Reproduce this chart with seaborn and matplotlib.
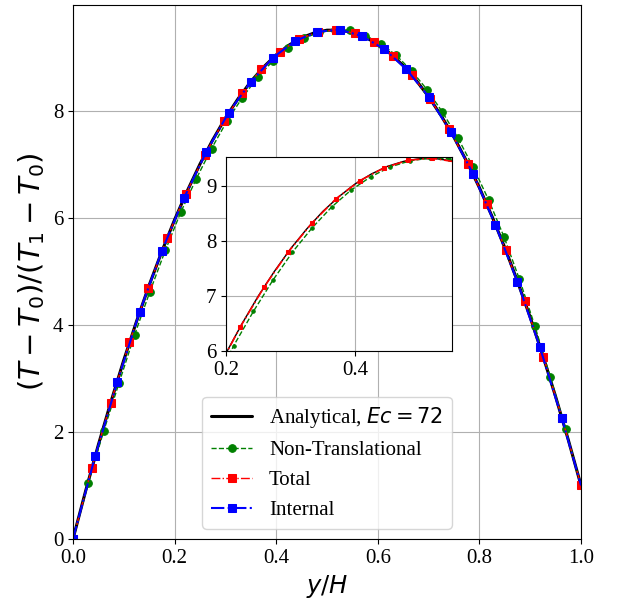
import numpy as np
import pandas as pd
import seaborn as sns
from matplotlib import pyplot as plt

# analytical profile, every 0.025 in y/H
y_ana = [0.0, 0.025, 0.05, 0.075, 0.1, 0.125, 0.15, 0.175, 0.2, 0.225,
         0.25, 0.275, 0.3, 0.325, 0.35, 0.375, 0.4, 0.425, 0.45, 0.475,
         0.5, 0.525, 0.55, 0.575, 0.6, 0.625, 0.65, 0.675, 0.7, 0.725,
         0.75, 0.775, 0.8, 0.825, 0.85, 0.875, 0.9, 0.925, 0.95, 0.975, 1.0]
T_ana = [0.0, 0.90, 1.76, 2.57, 3.34, 4.06, 4.74, 5.37, 5.96, 6.50,
         7.00, 7.45, 7.86, 8.22, 8.54, 8.81, 9.04, 9.22, 9.36, 9.45,
         9.50, 9.50, 9.46, 9.37, 9.24, 9.06, 8.84, 8.57, 8.26, 7.90,
         7.50, 7.05, 6.56, 6.02, 5.44, 4.81, 4.14, 3.42, 2.66, 1.85, 1.00]

# Non-Translational (green circles)
y_nt = [0.0, 0.0303, 0.0606, 0.0909, 0.1212, 0.1515, 0.1818, 0.2121, 0.2424,
        0.2727, 0.3030, 0.3333, 0.3636, 0.3939, 0.4242, 0.4545, 0.4848,
        0.5152, 0.5455, 0.5758, 0.6061, 0.6364, 0.6667, 0.6970, 0.7273,
        0.7576, 0.7879, 0.8182, 0.8485, 0.8788, 0.9091, 0.9394, 0.9697, 1.0]
T_nt = [0.0, 1.05, 2.02, 2.92, 3.81, 4.62, 5.39, 6.10, 6.72,
        7.29, 7.80, 8.24, 8.62, 8.93, 9.17, 9.35, 9.46,
        9.51, 9.50, 9.40, 9.25, 9.03, 8.74, 8.39, 7.97,
        7.49, 6.94, 6.33, 5.64, 4.85, 3.98, 3.03, 2.05, 1.00]

# Total (red squares)
y_tot = [0.0, 0.0370, 0.0741, 0.1111, 0.1481, 0.1852, 0.2222, 0.2593, 0.2963,
         0.3333, 0.3704, 0.4074, 0.4444, 0.4815, 0.5185, 0.5556, 0.5926,
         0.6296, 0.6667, 0.7037, 0.7407, 0.7778, 0.8148, 0.8519, 0.8889,
         0.9259, 0.9630, 1.0]
T_tot = [0.0, 1.32, 2.54, 3.67, 4.69, 5.62, 6.44, 7.17, 7.80,
         8.33, 8.77, 9.10, 9.33, 9.47, 9.51, 9.44, 9.28,
         9.02, 8.67, 8.21, 7.65, 7.00, 6.25, 5.39, 4.44,
         3.40, 2.25, 1.00]

# Internal (blue squares)
y_int = [0.0, 0.0438, 0.0875, 0.1313, 0.175, 0.2188, 0.2625, 0.3063, 0.35,
         0.3938, 0.4375, 0.4813, 0.525, 0.5688, 0.6125, 0.6563, 0.70,
         0.7438, 0.7875, 0.8313, 0.875, 0.9188, 0.9625, 1.0]
T_int = [0.0, 1.55, 2.94, 4.24, 5.38, 6.37, 7.23, 7.96, 8.53,
         8.99, 9.30, 9.47, 9.51, 9.39, 9.15, 8.77, 8.26,
         7.60, 6.82, 5.87, 4.80, 3.59, 2.25, 1.00]

sns.set_style('ticks', rc={'axes.edgecolor': 'black', 'text.color': 'black',
                           'axes.labelcolor': 'black', 'xtick.color': 'black',
                           'ytick.color': 'black', 'axes.grid': True,
                           'grid.color': '#b0b0b0', 'grid.linewidth': 0.8})
plt.rcParams['font.family'] = 'serif'
plt.rcParams['font.serif'] = ['Liberation Serif', 'DejaVu Serif']
plt.rcParams['mathtext.fontset'] = 'dejavusans'
plt.rcParams['font.size'] = 15

fig = plt.figure(figsize=(6.2, 6.05), dpi=100)
ax = fig.add_axes([0.1177, 0.1091, 0.8194, 0.8826])

sns.lineplot(x=y_ana, y=T_ana, ax=ax, color='black', lw=2.2,
             label='Analytical, $Ec = 72$')
sns.lineplot(x=y_nt, y=T_nt, ax=ax, color='green', lw=1, linestyle='--',
             marker='o', ms=5.5, mec='green', label='Non-Translational')
sns.lineplot(x=y_tot, y=T_tot, ax=ax, color='red', lw=1, linestyle='-.',
             marker='s', ms=6, mec='red', label='Total')
sns.lineplot(x=y_int, y=T_int, ax=ax, color='blue', lw=1.5, linestyle='-.',
             marker='s', ms=6, mec='blue', markevery=slice(0, len(y_int) - 1),
             label='Internal')

ax.set_xlim(0, 1)
ax.set_ylim(0, 9.97)
ax.set_xticks([0.0, 0.2, 0.4, 0.6, 0.8, 1.0])
ax.set_yticks([0, 2, 4, 6, 8])
ax.set_xlabel('$y/H$', fontsize=17.5)
ax.set_ylabel('$(T-T_0)/(T_1-T_0)$', fontsize=21)
ax.legend(loc='lower center', fontsize=15)

# inset zoom
axin = fig.add_axes([0.3645, 0.4198, 0.3645, 0.3207])
axin.set_facecolor('white')
sns.lineplot(x=y_ana, y=T_ana, ax=axin, color='black', lw=1)
sns.lineplot(x=y_nt, y=T_nt, ax=axin, color='green', lw=1, linestyle='--',
             marker='o', ms=2.5, mec='green')
sns.lineplot(x=y_tot, y=T_tot, ax=axin, color='red', lw=1.2, linestyle='-.',
             marker='s', ms=2.5, mec='red')
axin.set_xlim(0.2, 0.55)
axin.set_ylim(6, 9.53)
axin.set_xticks([0.2, 0.4])
axin.set_yticks([6, 7, 8, 9])
for s in axin.spines.values():
    s.set_color('black')

fig.savefig('out.png', dpi=100)
